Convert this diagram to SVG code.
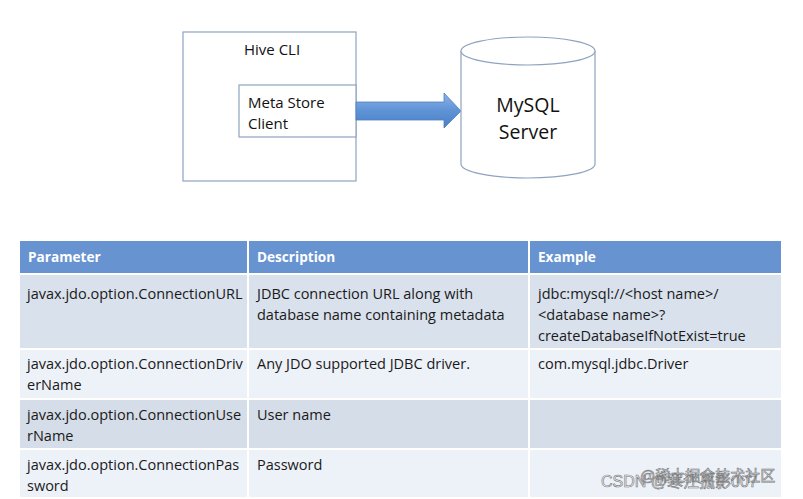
<svg xmlns="http://www.w3.org/2000/svg" width="803" height="499" viewBox="0 0 803 499">
<style>
.t{font-family:"Open Sans","Liberation Sans",sans-serif;font-size:14.5px;fill:#1a1a1a}
.h{font-family:"Open Sans","Liberation Sans",sans-serif;font-size:13.6px;font-weight:bold;fill:#ffffff}
.d{font-family:"Open Sans","Liberation Sans",sans-serif;font-size:15px;fill:#111}
.box{fill:#fff;stroke:#8ea3c0;stroke-width:1.2}
</style>
<defs>
<linearGradient id="ag" x1="0" y1="0" x2="0" y2="1">
<stop offset="0" stop-color="#8db4e8"/><stop offset="0.5" stop-color="#5f93d6"/><stop offset="1" stop-color="#4a7fc4"/>
</linearGradient>
</defs>
<rect width="803" height="499" fill="#fff"/>
<g id="hive-cli">
<rect class="box" x="183" y="32" width="173" height="149"/>
<text class="d" x="244" y="55">Hive CLI</text>
</g>
<g id="metastore-client">
<rect class="box" x="239" y="85" width="117" height="52"/>
<text class="d" x="248" y="108">Meta Store</text>
<text class="d" x="248" y="129">Client</text>
</g>
<g id="connectors">
<path d="M356,102 H444 V93 L461,111 L444,128 V120 H356 Z" fill="url(#ag)" stroke="#4f7fbf" stroke-width="0.8"/>
</g>
<g id="mysql-server">
<path d="M461,51 V164 A67,14 0 0 0 595,164 V51" fill="#fff" stroke="#8ea3c0" stroke-width="1.2"/>
<ellipse cx="528" cy="51" rx="67" ry="14" fill="#fff" stroke="#8ea3c0" stroke-width="1.2"/>
<text x="528" y="112" text-anchor="middle" style="font-family:'Open Sans','Liberation Sans',sans-serif;font-size:19.5px;fill:#111">MySQL</text>
<text x="528" y="139" text-anchor="middle" style="font-family:'Open Sans','Liberation Sans',sans-serif;font-size:19.5px;fill:#111">Server</text>
</g>
<g id="table">
<rect x="20" y="241" width="761" height="33" fill="#6794d0"/>
<rect x="20" y="274" width="761" height="75" fill="#d9e1ec"/>
<rect x="20" y="349" width="761" height="50" fill="#edf1f8"/>
<rect x="20" y="399" width="761" height="50" fill="#d5dde8"/>
<rect x="20" y="449" width="761" height="48" fill="#edf1f8"/>
<g stroke="#fff" stroke-width="2">
<line x1="20" y1="274" x2="781" y2="274"/>
<line x1="20" y1="349" x2="781" y2="349"/>
<line x1="20" y1="399" x2="781" y2="399"/>
<line x1="20" y1="449" x2="781" y2="449"/>
<line x1="248" y1="241" x2="248" y2="497"/>
<line x1="529" y1="241" x2="529" y2="497"/>
</g>
<text class="h" x="28" y="262">Parameter</text>
<text class="h" x="257" y="262">Description</text>
<text class="h" x="538" y="262">Example</text>
<text class="t" x="27" y="299">javax.jdo.option.ConnectionURL</text>
<text class="t" x="257" y="299">JDBC connection URL along with</text>
<text class="t" x="257" y="320">database name containing metadata</text>
<text class="t" x="538" y="299">jdbc:mysql://&lt;host name&gt;/</text>
<text class="t" x="538" y="320">&lt;database name&gt;?</text>
<text class="t" x="538" y="341">createDatabaseIfNotExist=true</text>
<text class="t" x="27" y="369">javax.jdo.option.ConnectionDriv</text>
<text class="t" x="27" y="390">erName</text>
<text class="t" x="257" y="369">Any JDO supported JDBC driver.</text>
<text class="t" x="538" y="369">com.mysql.jdbc.Driver</text>
<text class="t" x="27" y="420">javax.jdo.option.ConnectionUse</text>
<text class="t" x="27" y="441">rName</text>
<text class="t" x="257" y="420">User name</text>
<text class="t" x="27" y="470">javax.jdo.option.ConnectionPas</text>
<text class="t" x="27" y="491">sword</text>
<text class="t" x="257" y="470">Password</text>
</g>
<g id="watermark" style="font-family:'Liberation Sans','Noto Sans CJK SC',sans-serif;font-size:16px" fill="none" stroke="#777" stroke-width="0.6">
<text x="601" y="487">CSDN @寒江孤影007</text>
<text x="640" y="481" style="font-size:15px">@稀土掘金技术社区</text>
</g>
</svg>
